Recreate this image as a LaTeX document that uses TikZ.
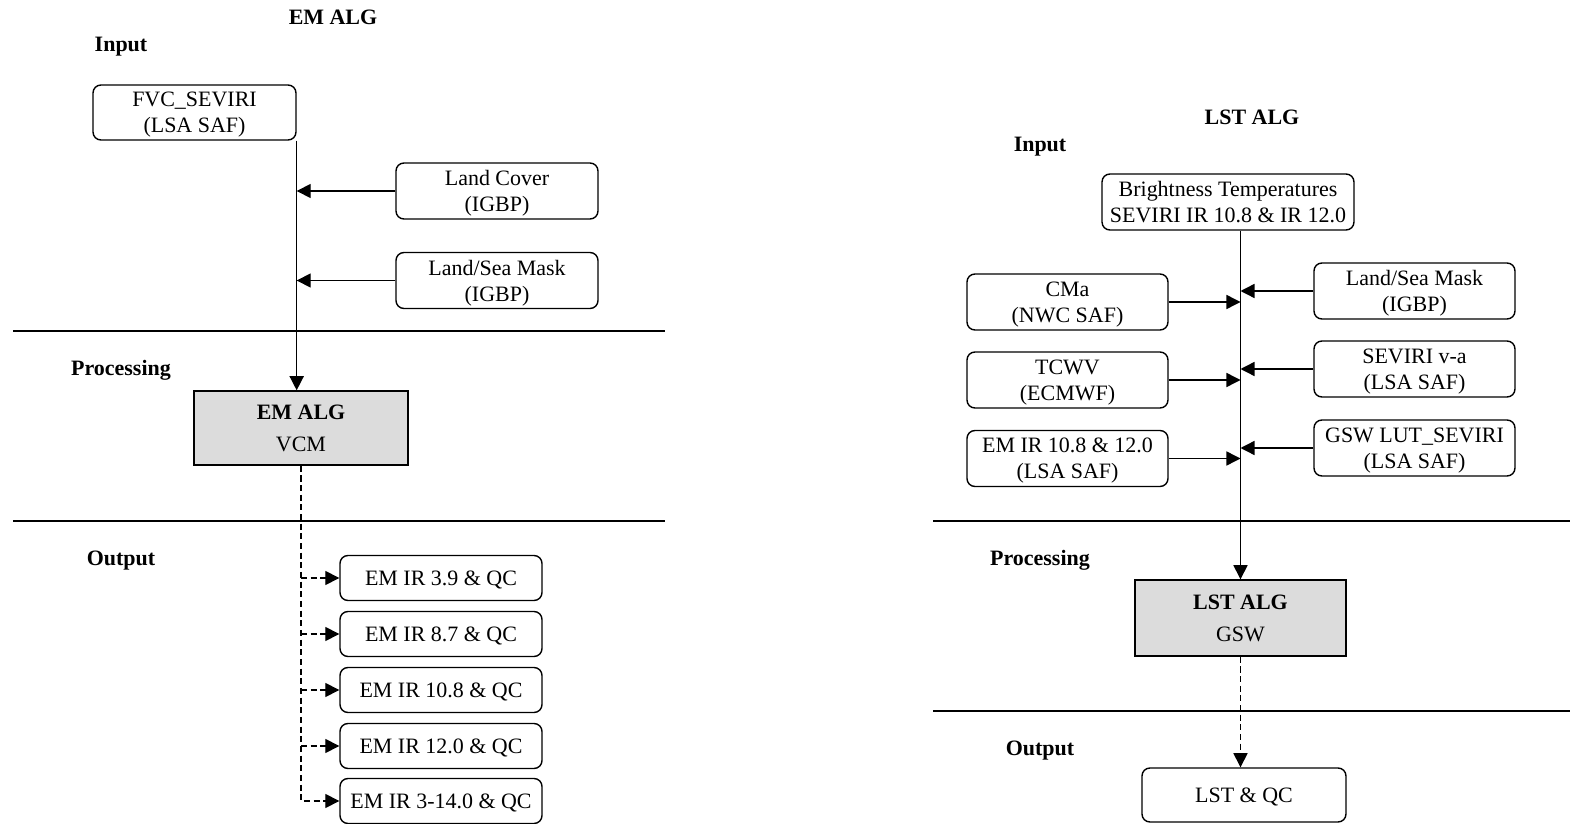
\documentclass[tikz,border=0pt]{standalone}
\usepackage{fontspec}
\setmainfont{Liberation Serif}
\usetikzlibrary{arrows.meta}
\definecolor{algfill}{RGB}{220,220,220}
\tikzset{
  txt/.style={font=\fontsize{12.5}{14.7}\selectfont, text depth=0pt},
  head/.style={font=\fontsize{12.5}{14.7}\selectfont\bfseries, text depth=0pt},
  inbox/.style={txt, draw, rounded corners=4.5pt, line width=0.8pt, align=center, inner sep=0pt, minimum width=4.04cm, minimum height=1.12cm},
  outbox/.style={inbox, minimum height=0.9cm},
  algbox/.style={txt, draw, fill=algfill, line width=0.8pt, align=center, inner sep=0pt},
  flow/.style={line width=0.8pt, -{Triangle[length=8pt,width=8pt]}},
  dflow/.style={flow, dash pattern=on 3.5pt off 2pt},
  sep/.style={line width=0.8pt}
}
\begin{document}
\begin{tikzpicture}[x=0.02cm, y=-0.02cm]
    \useasboundingbox (0,0) rectangle (1570,824);
    % EM part
    \node[head] (emtitle) at (333,17) {EM ALG};
    \node[head] (emin) at (121,44) {Input};
    \node[head] (emproc) at (121,368) {Processing};
    \node[head] (emout) at (121,558) {Output};
    \draw[sep] (13,331) -- (665,331);
    \draw[sep] (13,521) -- (665,521);
    \node[inbox, minimum width=4.06cm, minimum height=1.1cm] (fvc) at (194.5,112.5) {FVC\_SEVIRI\\(LSA SAF)};
    \node[inbox] (lcov) at (497,191) {Land Cover\\(IGBP)};
    \node[inbox] (lsmask) at (497,280.5) {Land/Sea Mask\\(IGBP)};
    \node[algbox, minimum width=4.28cm, minimum height=1.48cm] (emalg) at (301,428) {\textbf{EM ALG}\\[3.3pt]VCM};
    \node[outbox] (em39) at (441,578) {EM IR 3.9 \& QC};
    \node[outbox] (em87) at (441,634) {EM IR 8.7 \& QC};
    \node[outbox] (em108) at (441,690) {EM IR 10.8 \& QC};
    \node[outbox] (em120) at (441,746) {EM IR 12.0 \& QC};
    \node[outbox] (em314) at (441,801) {EM IR 3-14.0 \& QC};
    \draw[flow] (fvc.south east) -- (fvc.south east |- emalg.north);
    \draw[flow] (lcov.west) -- (lcov.west -| fvc.south east);
    \draw[flow] (lsmask.west) -- (lsmask.west -| fvc.south east);
    \draw[dflow] (emalg.south) |- (em314.west);
    \foreach \o in {em39,em87,em108,em120}
        \draw[dflow] (emalg.south |- \o.west) -- (\o.west);
    % LST part
    \node[head] (lsttitle) at (1252,117) {LST ALG};
    \node[head] (lstin) at (1040,144) {Input};
    \node[head] (lstproc) at (1040,558) {Processing};
    \node[head] (lstout) at (1040,748) {Output};
    \draw[sep] (933,521) -- (1570,521);
    \draw[sep] (933,711) -- (1570,711);
    \node[inbox, minimum width=5.04cm] (bt) at (1228,202) {Brightness Temperatures\\SEVIRI IR 10.8 \& IR 12.0};
    \node[inbox, minimum width=4.02cm] (cma) at (1067.5,302) {CMa\\(NWC SAF)};
    \node[inbox, minimum width=4.02cm] (tcwv) at (1067.5,380) {TCWV\\(ECMWF)};
    \node[inbox, minimum width=4.02cm] (emir) at (1067.5,458.5) {EM IR 10.8 \& 12.0\\(LSA SAF)};
    \node[inbox, minimum width=4.02cm] (lsmask2) at (1414.5,291) {Land/Sea Mask\\(IGBP)};
    \node[inbox, minimum width=4.02cm] (va) at (1414.5,369) {SEVIRI v-a\\(LSA SAF)};
    \node[inbox, minimum width=4.02cm] (gsw) at (1414.5,448) {GSW LUT\_SEVIRI\\(LSA SAF)};
    \node[algbox, minimum width=4.22cm, minimum height=1.52cm] (lstalg) at (1240.5,618) {\textbf{LST ALG}\\[3.3pt]GSW};
    \node[inbox, minimum width=4.08cm, minimum height=1.08cm] (lstqc) at (1244,795) {LST \& QC};
    \draw[flow] (lstalg.north |- bt.south) -- (lstalg.north);
    \foreach \i in {cma,tcwv,emir,lsmask2,va,gsw}
        \draw[flow] (\i) -- (\i -| lstalg.north);
    \draw[dflow] (lstalg.south) -- (lstalg.south |- lstqc.north);
\end{tikzpicture}
\end{document}
